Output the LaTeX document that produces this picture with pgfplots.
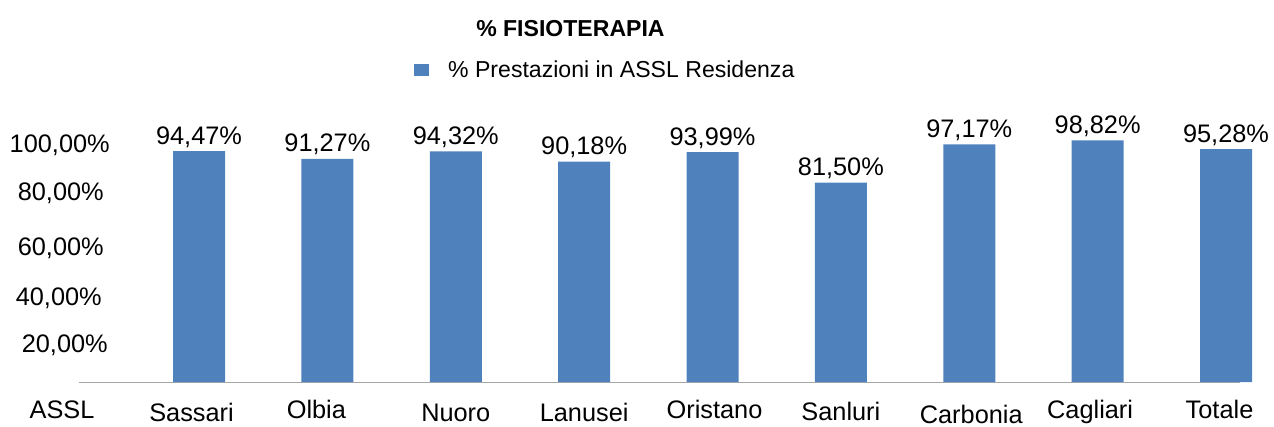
\documentclass[border=0pt]{standalone}
\usepackage{pgfplots}
\pgfplotsset{compat=1.18}
\usepackage{fontspec}
\setmainfont{Liberation Sans}
\definecolor{barblue}{RGB}{79,129,189}
\definecolor{axgray}{RGB}{166,166,166}
\begin{document}
\begin{tikzpicture}
\path[use as bounding box] (-59.25pt,-33pt) rectangle (896.25pt,286.5pt);
\begin{axis}[
  at={(0pt,0pt)}, anchor=south west,
  scale only axis, width=870.75pt, height=183.375pt,
  xmin=0.0652, xmax=9.109, ymin=0, ymax=100,
  clip=false,
  ybar, bar width=39pt,
  axis x line*=bottom, axis y line*=left,
  x axis line style={draw=axgray, line width=0.75pt, -},
  y axis line style={draw=none},
  tick style={draw=none},
  tick label style={font=\fontsize{19}{22}\selectfont},
  xtick={1,2,3,4,5,6,7,8,9},
  xticklabels={{\raisebox{-2.25pt}[\height][0pt]{Sassari}\hspace*{11.25pt}}, {Olbia\hspace*{16.5pt}}, {\raisebox{-2.25pt}[\height][0pt]{Nuoro}}, {\raisebox{-2.25pt}[\height][0pt]{Lanusei}}, {\hspace*{3pt}Oristano}, {\raisebox{-1.5pt}[\height][0pt]{Sanluri}}, {\hspace*{3pt}\raisebox{-3.5pt}[\height][0pt]{Carbonia}}, {Cagliari\hspace*{11.25pt}}, {Totale\hspace*{9.75pt}}},
  xticklabel style={anchor=base, yshift=-23.25pt},
  ytick={15.1,34.4,54.8,77.3,96.9},
  yticklabels={{20,00\%\hspace*{-3pt}}, {40,00\%\hspace*{1.5pt}}, {60,00\%}, {80,00\%}, {100,00\%\hspace*{-4.5pt}}},
  yticklabel style={anchor=east, inner sep=0pt, xshift=18.75pt},
  title={\% FISIOTERAPIA},
  title style={at={(0.4233,1.448)}, anchor=center, yshift=-6.75pt, inner sep=0pt, font=\bfseries\fontsize{17.3}{20}\selectfont},
  legend style={at={(0.2885,1.276)}, anchor=west, draw=none, fill=none, inner sep=0pt, column sep=14.25pt, nodes={inner sep=0pt}, font=\fontsize{17.3}{20}\selectfont},
  legend image code/.code={\fill[barblue] (0pt,-4.25pt) rectangle (11.25pt,4.25pt);},
  nodes near coords={\pgfmathprintnumber[fixed,fixed zerofill,precision=2,use comma,assume math mode=true]{\pgfplotspointmeta}\%},
  every node near coord/.append style={anchor=base, yshift=5.25pt, font=\fontsize{19}{22}\selectfont},
]
\addplot[fill=barblue, draw=none] coordinates {
  (1,94.47) (2,91.27) (3,94.32) (4,90.18) (5,93.99) (6,81.50) (7,97.17) (8,98.82) (9,95.28)
};
\addlegendentry{\% Prestazioni in ASSL Residenza}
\node[anchor=base, yshift=-27pt, font=\fontsize{19}{22}\selectfont] at (axis cs:-0.067,0) {ASSL};
\end{axis}
\end{tikzpicture}
\end{document}
